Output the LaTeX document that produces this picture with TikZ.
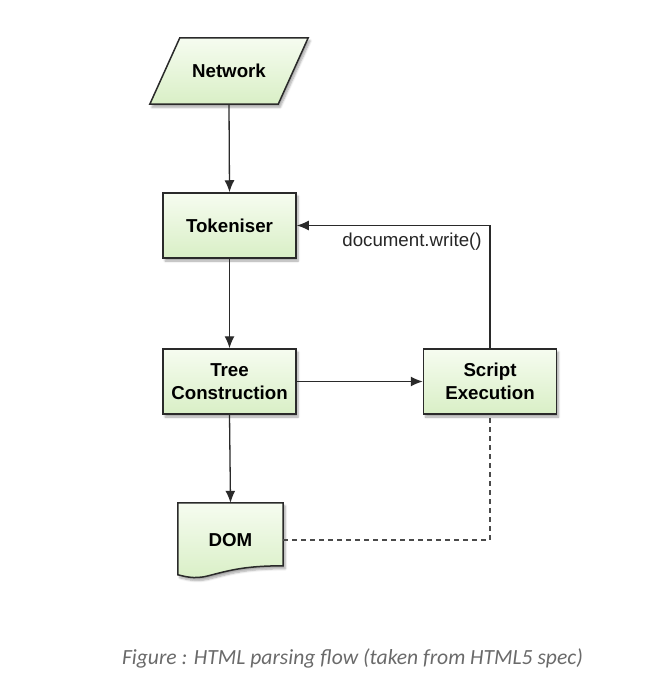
\documentclass[tikz,border=0pt]{standalone}
\usepackage{fontspec}
\setmainfont{Liberation Sans}
\newfontfamily\capfont{Carlito}
\usetikzlibrary{arrows.meta,shadows.blur,calc}
\definecolor{linec}{HTML}{2A2A2A}
\definecolor{boxtop}{HTML}{F6FCF0}
\definecolor{boxbot}{HTML}{D9EFC6}
\definecolor{capc}{HTML}{6A6A6A}
\begin{document}
\begin{tikzpicture}[x=1pt,y=-1pt,
  shad/.style={blur shadow={shadow xshift=2pt, shadow yshift=-3pt, shadow blur steps=6, shadow opacity=35}},
  boxfill/.style={draw=linec, line width=1.5pt, top color=boxtop, bottom color=boxbot},
  nfont/.style={font=\fontsize{18.7}{23}\selectfont\bfseries},
  box/.style={boxfill, shad, nfont, minimum width=133pt, minimum height=65pt, align=center, inner sep=0pt},
  ghost/.style={minimum width=#1, align=center, inner sep=0pt},
  conn/.style={draw=linec, line width=1.3pt, -{Latex[length=12pt,width=10pt]}},
  dashconn/.style={draw=linec!85, line width=1.3pt, dash pattern=on 5pt off 4pt},
  lbl/.style={font=\fontsize{18.7}{22}\selectfont, text=black!85}
]
\useasboundingbox (0,0) rectangle (670,679);

% Network (parallelogram)
\node[ghost=158pt, minimum height=66pt] (net) at (229,71) {};
\path[boxfill, shad] (net.south west) -- ($(net.north west)+(30,0)$) -- (net.north east) -- ($(net.south east)+(-30,0)$) -- cycle;
\node[nfont] at (net.center) {Network};

\node[box] (tok) at (229.5,225.5) {Tokeniser};
\node[box] (tree) at (229.5,381.5) {Tree\\Construction};
\node[box] (script) at (490,381.5) {Script\\Execution};

% DOM (document shape)
\node[ghost=105pt, minimum height=74pt] (dom) at (230.5,540) {};
\path[boxfill, shad] (dom.north west) -- (dom.north east) -- ($(dom.north east)+(0,63)$)
  .. controls ($(dom.north east)+(-40,63)$) and ($(dom.north east)+(-55,68)$) .. ($(dom.north east)+(-75,73)$)
  .. controls ($(dom.north east)+(-90,77)$) and ($(dom.north east)+(-100,73)$) .. ($(dom.north west)+(0,72)$)
  -- cycle;
\node[nfont] at (dom.center) {DOM};

% connectors
\draw[conn] (net.south) -- (tok.north);
\draw[conn] (tok.south) -- (tree.north);
\draw[conn] (tree.south) -- (dom.north);
\draw[conn] (tree.east) -- (script.west);
\coordinate (corner) at (script.north |- tok.east);
\draw[conn] (script.north) -- (corner) -- (tok.east);
\node[lbl] (dw) at (412,242) {document.write()};
\draw[dashconn] (dom.east) -| (script.south);

% caption
\node[font=\capfont\itshape\fontsize{21.6}{26}\selectfont, text=capc] (cap) at (352.5,658) {Figure : HTML parsing flow (taken from HTML5 spec)};
\end{tikzpicture}
\end{document}
